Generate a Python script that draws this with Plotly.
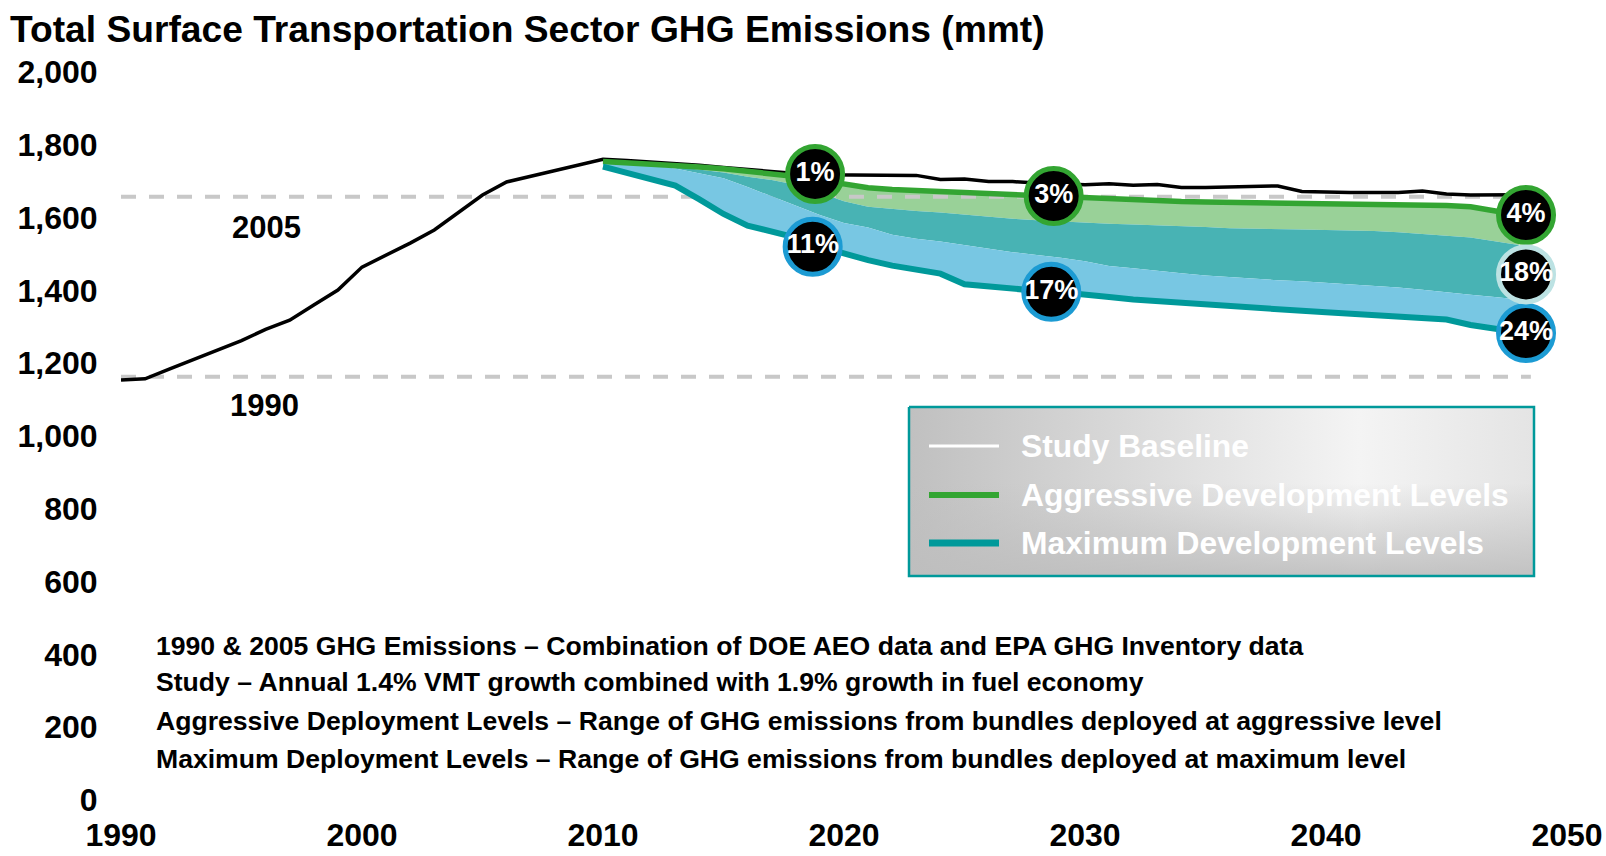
import plotly.graph_objects as go

# ---------------- data ----------------
base_years = list(range(1990, 2049))
baseline = [1154, 1157, 1184, 1210, 1236, 1262, 1293, 1318, 1360, 1401,
            1464, 1497, 1530, 1566, 1614, 1662, 1698, 1714, 1730, 1746,
            1760, 1757, 1753, 1749, 1744, 1738, 1732, 1726, 1721, 1718,
            1717, 1717, 1717, 1716, 1705, 1706, 1699, 1699, 1695, 1692,
            1690, 1693, 1689, 1691, 1683, 1683, 1685, 1687, 1687, 1672,
            1670, 1669, 1669, 1669, 1673, 1665, 1662, 1662, 1663]

proj_years = list(range(2010, 2049))
agg_upper = [1754, 1751, 1748, 1744, 1739, 1734, 1728, 1721, 1713, 1703,
             1692, 1682, 1677, 1674, 1671, 1668, 1665, 1662, 1659, 1656,
             1653, 1650, 1648, 1645, 1644, 1643, 1642, 1641, 1640, 1640,
             1639, 1639, 1638, 1637, 1636, 1633, 1630, 1620, 1607]
max_upper = [1753, 1750, 1746, 1740, 1732, 1724, 1712, 1703, 1690, 1668,
             1645, 1630, 1623, 1618, 1614, 1608, 1602, 1597, 1593, 1589,
             1586, 1583, 1581, 1579, 1576, 1574, 1571, 1569, 1568, 1567,
             1566, 1565, 1563, 1560, 1556, 1550, 1545, 1535, 1525]
agg_lower = [1752, 1748, 1743, 1735, 1722, 1708, 1684, 1658, 1632, 1607,
             1585, 1573, 1553, 1542, 1534, 1524, 1515, 1505, 1497, 1490,
             1480, 1467, 1461, 1453, 1447, 1441, 1436, 1431, 1428, 1425,
             1421, 1418, 1413, 1408, 1402, 1394, 1388, 1382, 1375]
max_lower = [1740, 1722, 1706, 1688, 1650, 1610, 1578, 1563, 1545, 1520,
             1500, 1483, 1468, 1455, 1446, 1417, 1410, 1404, 1399, 1395,
             1390, 1382, 1375, 1370, 1366, 1362, 1357, 1352, 1348, 1344,
             1340, 1336, 1331, 1328, 1325, 1320, 1305, 1295, 1285]

ref_labels = ["1990", "2005"]
ref_levels = [1163, 1657]
ref_end_year = 2048.5

circle_labels = ["1%", "3%", "4%", "11%", "17%", "24%", "18%"]
circle_years = [2018.8, 2028.7, 2048.3, 2018.7, 2028.6, 2048.3, 2048.3]
circle_values = [1720, 1659, 1607, 1520, 1396, 1283, 1444]
circle_borders = ["#33A532", "#33A532", "#33A532", "#1C9BD3", "#1C9BD3",
                  "#1C9BD3", "#BCE2E3"]

legend_names = ["Study Baseline", "Aggressive Development Levels",
                "Maximum Development Levels"]
notes = [
    "1990 & 2005 GHG Emissions \u2013 Combination of DOE AEO data and EPA GHG Inventory data",
    "Study \u2013 Annual 1.4% VMT growth combined with 1.9% growth in fuel economy",
    "Aggressive Deployment Levels \u2013 Range of GHG emissions from bundles deployed at aggressive level",
    "Maximum Deployment Levels \u2013 Range of GHG emissions from bundles deployed at maximum level",
]
x_ticks = [1990, 2000, 2010, 2020, 2030, 2040, 2050]
y_ticks = [0, 200, 400, 600, 800, 1000, 1200, 1400, 1600, 1800, 2000]
title = "Total Surface Transportation Sector GHG Emissions (mmt)"

# ---------------- styling ----------------
FONT = "Liberation Sans, Arial, sans-serif"
GREEN = "#33A532"
LIGHT_GREEN = "#99D198"
TEAL_FILL = "#48B3B4"
LIGHT_BLUE = "#78C7E3"
DARK_TEAL = "#00999A"

W, H = 1606, 856
L, R, T, B = 121, 39, 72, 56

fig = go.Figure()
skip = dict(hoverinfo="skip", showlegend=False)

# aggressive band (upper part)
fig.add_trace(go.Scatter(x=proj_years, y=agg_upper, mode="lines",
                         line=dict(width=0), **skip))
fig.add_trace(go.Scatter(x=proj_years, y=max_upper, mode="lines",
                         line=dict(width=0), fill="tonexty",
                         fillcolor=LIGHT_GREEN, **skip))

# reference dashed lines
for lvl in ref_levels:
    fig.add_trace(go.Scatter(x=[1990, ref_end_year], y=[lvl, lvl], mode="lines",
                             line=dict(color="#C8C8C8", width=4,
                                       dash="15px,13px"), **skip))

# overlap + maximum band
fig.add_trace(go.Scatter(x=proj_years, y=max_upper, mode="lines",
                         line=dict(width=0), **skip))
fig.add_trace(go.Scatter(x=proj_years, y=agg_lower, mode="lines",
                         line=dict(width=0), fill="tonexty",
                         fillcolor=TEAL_FILL, **skip))
fig.add_trace(go.Scatter(x=proj_years, y=max_lower, mode="lines",
                         line=dict(width=0), fill="tonexty",
                         fillcolor=LIGHT_BLUE, **skip))

# lines
fig.add_trace(go.Scatter(x=base_years, y=baseline, mode="lines",
                         line=dict(color="black", width=3.5), **skip))
fig.add_trace(go.Scatter(x=proj_years, y=agg_upper, mode="lines",
                         line=dict(color=GREEN, width=5.5), **skip))
fig.add_trace(go.Scatter(x=proj_years, y=max_lower, mode="lines",
                         line=dict(color=DARK_TEAL, width=6), **skip))

# percentage circles
fig.add_trace(go.Scatter(
    x=circle_years, y=circle_values, mode="markers+text",
    text=circle_labels, textposition="middle center",
    textfont=dict(family=FONT, size=27, color="white", weight="bold"),
    marker=dict(size=55, color="black",
                line=dict(color=circle_borders, width=5)),
    cliponaxis=False, **skip))

# ---------------- legend box (pixel overlay axes) ----------------
bx0, bx1, by0, by1 = 909, 1534, 407, 576
fig.add_trace(go.Scatter(
    x=[bx0, bx1, bx1, bx0, bx0], y=[by0, by0, by1, by1, by0],
    xaxis="x2", yaxis="y2", mode="lines", fill="toself",
    line=dict(width=0),
    fillgradient=dict(type="horizontal", start=bx0, stop=bx1,
                      colorscale=[[0, "#C0C0C0"], [0.72, "#F4F4F4"],
                                  [1, "#E4E4E4"]]),
    **skip))
fig.add_trace(go.Scatter(
    x=[bx0, bx1, bx1, bx0, bx0], y=[by0, by0, by1, by1, by0],
    xaxis="x2", yaxis="y2", mode="lines", fill="toself",
    line=dict(color=DARK_TEAL, width=2.5),
    fillgradient=dict(type="vertical", start=by0, stop=by1,
                      colorscale=[[0, "rgba(190,190,190,0)"],
                                  [0.45, "rgba(190,190,190,0)"],
                                  [1, "rgba(190,190,190,0.9)"]]),
    **skip))

leg_colors = ["white", GREEN, DARK_TEAL]
leg_widths = [3, 6, 7]
leg_y = [446, 495, 543]
for name, col, lw, yy in zip(legend_names, leg_colors, leg_widths, leg_y):
    fig.add_trace(go.Scatter(x=[929, 999], y=[yy, yy], xaxis="x2", yaxis="y2",
                             mode="lines", line=dict(color=col, width=lw),
                             **skip))
    fig.add_annotation(x=1019, y=yy, xref="x2", yref="y2", text=name,
                       showarrow=False, xanchor="left", yanchor="middle",
                       font=dict(family=FONT, size=31.8, color="white",
                                 weight="bold"))

# year labels near reference lines
for lab, (xx, yy) in zip(ref_labels, [(264, 405), (266, 227)]):
    fig.add_annotation(x=xx, y=yy, xref="x2", yref="y2", text=lab,
                       showarrow=False, xanchor="center", yanchor="middle",
                       font=dict(family=FONT, size=31, color="black",
                                 weight="bold"))

# notes
for txt, yy in zip(notes, [646, 682, 721, 759]):
    fig.add_annotation(x=154, y=yy, xref="x2", yref="y2", text=txt,
                       showarrow=False, xanchor="left", yanchor="middle",
                       font=dict(family=FONT, size=26.6, color="black",
                                 weight="bold"))

fig.update_layout(
    width=W, height=H,
    margin=dict(l=L, r=R, t=T, b=B, pad=0, autoexpand=False),
    paper_bgcolor="white", plot_bgcolor="white",
    showlegend=False,
    title=dict(text=title, x=10 / W, xanchor="left", xref="container",
               y=1 - 29 / H, yanchor="middle", yref="container",
               font=dict(family=FONT, size=37.2, color="black",
                         weight="bold")),
    xaxis=dict(range=[1990, 2050], tickvals=x_ticks, showgrid=False,
               zeroline=False, showline=False, ticks="outside", ticklen=7,
               tickcolor="rgba(0,0,0,0)", automargin=False,
               ticklabeloverflow="allow",
               tickfont=dict(family=FONT, size=32, color="black",
                             weight="bold")),
    yaxis=dict(range=[0, 2000], tickvals=y_ticks, tickformat=",d",
               showgrid=False, zeroline=False, showline=False,
               ticks="outside", ticklen=16, tickcolor="rgba(0,0,0,0)",
               automargin=False,
               tickfont=dict(family=FONT, size=32, color="black",
                             weight="bold")),
    xaxis2=dict(overlaying="x", range=[L, W - R], visible=False,
                automargin=False),
    yaxis2=dict(overlaying="y", range=[H - B, T], visible=False,
                automargin=False),
)

fig.write_html("out.html",
               config={"displayModeBar": False},
               post_script="document.body.style.margin='0';"
                           "document.body.style.overflow='hidden';")
